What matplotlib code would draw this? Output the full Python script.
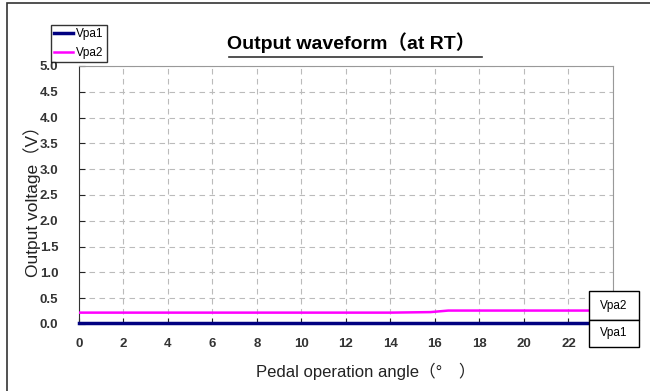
import matplotlib.pyplot as plt
from matplotlib.lines import Line2D
from matplotlib.patches import Rectangle

plt.rcParams['font.family'] = ['Liberation Sans', 'Noto Sans CJK JP', 'DejaVu Sans']

# Data
angle = [0, 2, 4, 6, 8, 10, 12, 14, 15.8, 16.6, 18, 20, 22, 22.9]
vpa1 = [0.02, 0.02, 0.02, 0.02, 0.02, 0.02, 0.02, 0.02, 0.02, 0.02, 0.02, 0.02, 0.02, 0.02]
vpa2 = [0.22, 0.22, 0.22, 0.22, 0.22, 0.22, 0.22, 0.22, 0.23, 0.26, 0.26, 0.26, 0.26, 0.26]
xticks = list(range(0, 25, 2))
yticks = [i * 0.5 for i in range(11)]

fig = plt.figure(figsize=(6.5, 3.91), dpi=100)
ax = fig.add_axes([0.1215, 0.1714, 0.8215, 0.66])

ax.plot(angle, vpa1, color='#000080', lw=2.5, label='Vpa1', clip_on=False, zorder=3)
ax.plot(angle, vpa2, color='#ff00ff', lw=1.8, label='Vpa2', zorder=3)

ax.set_xlim(0, 24)
ax.set_ylim(0, 5.0)
ax.set_xticks(xticks)
ax.set_yticks(yticks)
ax.set_yticklabels([f'{v:.1f}' for v in yticks])
ax.tick_params(axis='both', labelsize=9.5, length=4, colors='#222222', direction='in')
ax.tick_params(axis='x', pad=10)
ax.tick_params(axis='y', pad=15)
for lbl in ax.get_xticklabels() + ax.get_yticklabels():
    lbl.set_fontweight('bold')
    lbl.set_color('#333333')
ax.grid(True, color='#bbbbbb', linestyle=(0, (5, 4)), lw=0.8)
for s in ['top', 'right']:
    ax.spines[s].set_color('#999999')
ax.spines['bottom'].set_visible(False)
ax.spines['left'].set_color('#333333')

ax.set_xlabel('Pedal operation angle（°　）', fontsize=12, color='#222222')
ax.xaxis.set_label_coords(0.537, -0.15)
ax.set_ylabel('Output voltage（V）', fontsize=12.5, color='#222222')
ax.yaxis.set_label_coords(-0.072, 0.49)

# title with underline
fig.text(0.54, 0.892, 'Output waveform（at RT）', ha='center', va='center',
         fontsize=14, fontweight='bold', family=['Liberation Sans', 'Noto Sans CJK JP'])
fig.add_artist(Line2D([0.353, 0.742], [0.855, 0.855], color='#333333', lw=1.2))

# outer frame (left and top edges visible, rest cut off)
fig.add_artist(Rectangle((0.011, -0.05), 1.2, 1.042, transform=fig.transFigure,
                         fill=False, edgecolor='#333333', lw=1.2))

# legend top left
leg = fig.legend(loc='upper left', bbox_to_anchor=(0.078, 0.935), fontsize=8.5,
                 frameon=True, fancybox=False, edgecolor='black', borderpad=0.25,
                 handlelength=1.6, handletextpad=0.3, labelspacing=0.55,
                 borderaxespad=0)
leg.get_frame().set_linewidth(1.0)

# right end labels
x0, w = 0.906, 0.077
fig.add_artist(Rectangle((x0, 0.182), w, 0.073, transform=fig.transFigure,
                         facecolor='white', edgecolor='black', lw=1.0, zorder=5))
fig.add_artist(Rectangle((x0, 0.113), w, 0.069, transform=fig.transFigure,
                         facecolor='white', edgecolor='black', lw=1.0, zorder=5))
fig.text(x0 + w / 2, 0.218, 'Vpa2', ha='center', va='center', fontsize=8.5, zorder=6)
fig.text(x0 + w / 2, 0.148, 'Vpa1', ha='center', va='center', fontsize=8.5, zorder=6)

fig.savefig('out.png', dpi=100)
